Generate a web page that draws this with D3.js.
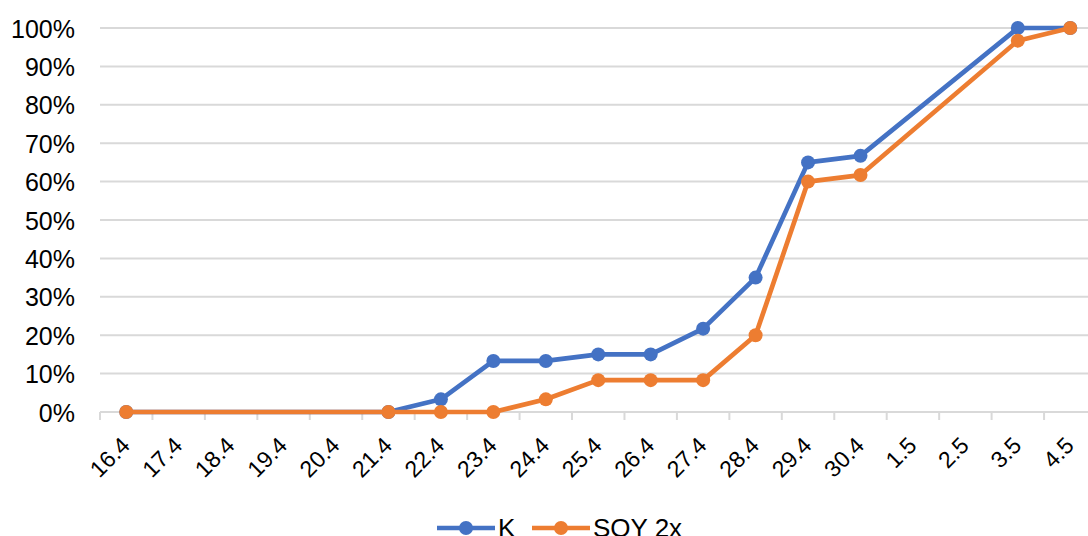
<!DOCTYPE html>
<html><head><meta charset="utf-8">
<script src="https://cdn.jsdelivr.net/npm/d3@7"></script>
<style>html,body{margin:0;padding:0;background:#fff;overflow:hidden}</style>
</head><body>
<svg id="c" width="1088" height="536"></svg>
<script>
const categories = ["16.4","17.4","18.4","19.4","20.4","21.4","22.4","23.4","24.4","25.4","26.4","27.4","28.4","29.4","30.4","1.5","2.5","3.5","4.5"];
const kValues = [0,null,null,null,null,0,0.033,0.133,0.133,0.15,0.15,0.217,0.35,0.65,0.667,null,null,1.0,1.0];
const soyValues = [0,null,null,null,null,0,0,0,0.033,0.083,0.083,0.083,0.20,0.60,0.617,null,null,0.967,1.0];
const yTicks = [0,0.1,0.2,0.3,0.4,0.5,0.6,0.7,0.8,0.9,1.0];
const seriesNames = ["K","SOY 2x"];
const colors = ["#4472C4","#ED7D31"];

const svg = d3.select("#c");
const font = "'Liberation Sans', Arial, sans-serif";
const pL = 100, pR = 1096.5, pT = 28, pB = 412;
const x = d3.scaleBand().domain(categories).range([pL,pR]).padding(0);
const y = d3.scaleLinear().domain([0,1]).range([pB,pT]);

// gridlines
svg.append("g").selectAll("line").data(yTicks).join("line")
  .attr("x1",pL).attr("x2",pR)
  .attr("y1",d=>y(d)).attr("y2",d=>y(d))
  .attr("stroke","#d9d9d9").attr("stroke-width",2);

// y axis labels
const yAxis = d3.axisLeft(y).tickValues(yTicks).tickFormat(d3.format(".0%")).tickSize(0).tickPadding(0);
const gy = svg.append("g").attr("transform",`translate(${pL-25},0)`).call(yAxis);
gy.select(".domain").remove();
gy.selectAll("text").attr("font-family",font).attr("font-size",25).attr("fill","#000").attr("dy","0.36em");

// x axis ticks at band boundaries
const bounds = categories.map(c=>x(c)).concat([pR]);
svg.append("g").selectAll("line").data(bounds).join("line")
  .attr("x1",d=>d).attr("x2",d=>d).attr("y1",pB).attr("y2",pB+8)
  .attr("stroke","#d9d9d9").attr("stroke-width",2);

// x labels rotated
svg.append("g").selectAll("text").data(categories).join("text")
  .attr("transform",d=>`translate(${x(d)+x.bandwidth()/2+5},${pB+35}) rotate(-45)`)
  .attr("text-anchor","end")
  .attr("font-family",font).attr("font-size",23).attr("fill","#000")
  .text(d=>d);

// series
const all = [kValues, soyValues];
const line = d3.line().x(d=>x(d.c)+x.bandwidth()/2).y(d=>y(d.v));
all.forEach((vals,i)=>{
  const pts = categories.map((c,j)=>({c,v:vals[j]})).filter(d=>d.v!==null);
  svg.append("path").datum(pts).attr("d",line).attr("fill","none")
    .attr("stroke",colors[i]).attr("stroke-width",4.7).attr("stroke-linejoin","round");
  svg.append("g").selectAll("circle").data(pts).join("circle")
    .attr("cx",d=>x(d.c)+x.bandwidth()/2).attr("cy",d=>y(d.v)).attr("r",7)
    .attr("fill",colors[i]);
});

// legend
const leg = [{x:437,tx:498},{x:532,tx:593}];
seriesNames.forEach((n,i)=>{
  const g = svg.append("g");
  g.append("line").attr("x1",leg[i].x).attr("x2",leg[i].x+58).attr("y1",528).attr("y2",528)
    .attr("stroke",colors[i]).attr("stroke-width",4.7);
  g.append("circle").attr("cx",leg[i].x+29).attr("cy",528).attr("r",7).attr("fill",colors[i]);
  g.append("text").attr("x",leg[i].tx).attr("y",528).attr("dy","0.36em")
    .attr("font-family",font).attr("font-size",26).attr("fill","#000").text(n);
});
</script>
</body></html>
